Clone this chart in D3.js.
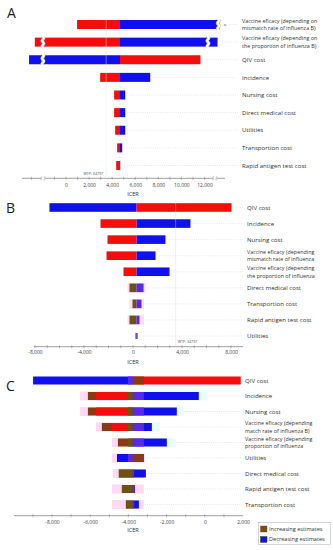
<!DOCTYPE html>
<html><head><meta charset="utf-8">
<script src="https://cdn.jsdelivr.net/npm/d3@7"></script>
<style>body{margin:0;background:#fff}svg{display:block}text{font-family:"Open Sans",sans-serif}</style>
</head><body><svg id="c" width="333" height="550"></svg>
<script>
// ---------- DATA ----------
// Panel A
const aLabels = [["Vaccine eficacy (depending on","mismatch rate of influenza B)"],["Vaccine eficacy (depending on","the proportion of influenza B)"],"QIV cost","Incidence","Nursing cost","Direct medical cost","Utilities","Transportion cost","Rapid antigen test cost"];
const aLow  = [960, -2700, -3200, 2960, 4170, 4170, 4260, 4430, 4350];
const aHigh = [13300, 13130, 11650, 7300, 5130, 5130, 5130, 4870, 4700];
const aLeftKind = ["inc","inc","dec","inc","inc","inc","inc","inc","inc"];
const aBase = 4680;
const aWTP = 3480;
const aTicks = [0,2000,4000,6000,8000,10000,12000];
const aBarBreaks = [[0,13200],[1,-2000],[1,12300],[2,-2000]];
const aAxisBreaks = [-2000, 12900];

// Panel B
const bLabels = ["QIV cost","Incidence","Nursing cost",["Vaccine eficacy (depending","mismatch rate of influenza"],["Vaccine eficacy (depending","the proportion of influenza"],"Direct medical cost","Transportion cost","Rapid antigen test cost","Utilities"];
const bLow  = [-6820, -2650, -2080, -2160, -775, -285, -40, -285, 200];
const bHigh = [8040, 4690, 2650, 1840, 2980, 860, 690, 530, 370];
const bLeftKind = ["dec","inc","inc","inc","inc","est","est","est","dec"];
const bShadeLow  = [null,null,null,null,null,-450,-300,-450,null];
const bShadeHigh = [null,null,null,null,null,1020,900,900,null];
const bBase = 290;
const bWTP = 3480;
const bTicks = [-8000,-4000,0,4000,8000];

// Panel C
const cLabels = ["QIV cost","Incidence","Nursing cost",["Vaccine eficacy (depending","match rate of influenza B)"],["Vaccine eficacy (depending","proportion of influenza"],"Utilities","Direct medical cost","Rapid antigen test cost","Transportion cost"];
const cLeftKind  = ["dec","inc","inc","inc","inc","dec","inc","inc","inc"];
const cShadeLow  = [null,-6540,-6540,-5700,-4860,-4860,-4810,-4860,-4860];
const cTailLow   = [null,-6120,-6120,-5390,-4550,null,-4500,-4340,-4130];
const cMainLow   = [-8990,-5700,-5700,-4863,null,-4600,null,null,null];
const cInnerLow  = [-4026,-4026,-4026,-4026,-4026,-4026,-4500,-4340,-4130];
const cInnerHigh = [-3190,-3190,-3190,-3190,-3190,-3190,-3700,-3660,-3700];
const cMainHigh  = [1882,-314,-1464,-2771,-1987,-3190,-3085,-3660,-3451];
const cShadeHigh = [null,105,-1150,-2353,-1569,-3150,-3200,-3200,-3200];
const cBase = -3765;
const cTicks = [-8000,-6000,-4000,-2000,0,2000];
const legendItems = ["Increasing estimates","Decreasing estimates"];

// ---------- STYLE ----------
const RED="#f50c0c", BLUE="#1010ee", BROWN="#8a3a12", OLIVE="#6e5212", PURPLE="#5a28ea", PINK="#ffdaf6", CYAN="#e8fdfd";
const svg = d3.select("#c");
const fmt = v => d3.format(",")(v).replace("\u2212","-");

function labelText(g, x, y, lab, fs){
  const t = g.append("text").attr("x",x).attr("y",y).attr("font-size",fs).attr("fill","#333");
  if (Array.isArray(lab)) {
    t.attr("font-size",5.4);
    t.append("tspan").attr("x",x).attr("dy",-1.7).text(lab[0]);
    t.append("tspan").attr("x",x).attr("dy",7.5).text(lab[1]);
  } else t.attr("dy",2.2).text(lab);
}
function wave(x,y0,y1,amp){
  let d=`M${x},${y0}`; const n=4, st=(y1-y0)/n;
  for(let i=0;i<n;i++){ const xx=x+(i%2?-amp:amp); d+=` Q${xx},${y0+st*(i+0.5)} ${x},${y0+st*(i+1)}`; }
  return d;
}
function drawBreak(g,x,yc,h){
  g.append("path").attr("d",wave(x,yc-h/2,yc+h/2,1.6)).attr("fill","none").attr("stroke","#fff").attr("stroke-width",3);
  g.append("path").attr("d",wave(x-1.6,yc-h/2,yc+h/2,1.6)).attr("fill","none").attr("stroke","#999").attr("stroke-width",0.5);
  g.append("path").attr("d",wave(x+1.6,yc-h/2,yc+h/2,1.6)).attr("fill","none").attr("stroke","#999").attr("stroke-width",0.5);
}
function drawAxis(x, y, r0, r1, ticks, minorStep, labY, icerY){
  const g = svg.append("g");
  g.append("line").attr("x1",r0).attr("x2",r1).attr("y1",y).attr("y2",y).attr("stroke","#888").attr("stroke-width",0.8);
  const d = [x.invert(r0), x.invert(r1)];
  const minor = d3.range(Math.ceil(d[0]/minorStep)*minorStep, d[1], minorStep);
  g.selectAll(".mt").data(minor).join("line").attr("x1",v=>x(v)).attr("x2",v=>x(v)).attr("y1",y-1.5).attr("y2",y+1.5).attr("stroke","#888").attr("stroke-width",0.6);
  const ax = d3.axisBottom(x).tickValues(ticks).tickFormat(fmt).tickSize(0).tickPadding(0);
  const ag = svg.append("g").attr("transform",`translate(0,${labY})`).call(ax);
  ag.select(".domain").remove();
  ag.selectAll("text").attr("font-size",5).attr("fill","#444").attr("font-family","Open Sans").attr("dy","0.35em");
  svg.append("text").attr("x",133).attr("y",icerY).attr("text-anchor","middle").attr("font-size",5.6).attr("fill","#333").attr("dy","0.35em").text("ICER");
  return g;
}
function leader(g,x1,x2,y){
  if (x2<=x1) return;
  g.append("line").attr("x1",x1).attr("x2",x2).attr("y1",y).attr("y2",y).attr("stroke","#cfcfcf").attr("stroke-width",0.5).attr("stroke-dasharray","1,1.2");
}

// ---------- PANEL A ----------
{
  const x = d3.scaleLinear().domain([0,12000]).range([66,204.5]);
  const y = d3.scalePoint().domain(d3.range(aLabels.length)).range([24.5,165.5]);
  const h = 9;
  const g = svg.append("g");
  g.append("text").attr("x",7).attr("y",18).attr("font-size",14).attr("fill","#222").text("A");
  g.append("line").attr("x1",x(aBase)).attr("x2",x(aBase)).attr("y1",16).attr("y2",176).attr("stroke","#ddd").attr("stroke-width",0.6).attr("stroke-dasharray","2,1.5");
  aLabels.forEach((lab,i)=>{
    const yc=y(i);
    leader(g, Math.max(x(aHigh[i]),x(aBase))+ (i===0?10:2), 238, yc);
    const lc = aLeftKind[i]==="inc"?RED:BLUE, rc = aLeftKind[i]==="inc"?BLUE:RED;
    g.append("rect").attr("x",x(aLow[i])).attr("y",yc-h/2).attr("width",x(aBase)-x(aLow[i])).attr("height",h).attr("fill",lc);
    g.append("rect").attr("x",x(aBase)).attr("y",yc-h/2).attr("width",Math.max(0,x(aHigh[i])-x(aBase))).attr("height",h).attr("fill",rc);
    labelText(g,242,yc,lab,6.1);
  });
  g.append("text").attr("x",x(13300)+4).attr("y",y(0)+2).attr("font-size",5).attr("fill","#888").text("=");
  g.append("line").attr("x1",x(aWTP)).attr("x2",x(aWTP)).attr("y1",16).attr("y2",176).attr("stroke","#e6e6e6").attr("stroke-opacity",0.55).attr("stroke-width",0.8);
  aBarBreaks.forEach(([r,v])=>drawBreak(g,x(v),y(r),11));
  const axg = drawAxis(x,178.3,22,225,aTicks,1000,185,194);
  aAxisBreaks.forEach(v=>drawBreak(axg,x(v),178.3,4));
  g.append("text").attr("x",x(aWTP)-3).attr("y",175).attr("text-anchor","end").attr("font-size",3.6).attr("fill","#555").text("WTP: 34797");
}

// ---------- PANEL B ----------
{
  const x = d3.scaleLinear().domain([-8000,8000]).range([35,231]);
  const y = d3.scalePoint().domain(d3.range(bLabels.length)).range([207.5,336]);
  const h = 8.6;
  const g = svg.append("g");
  g.append("text").attr("x",6).attr("y",213).attr("font-size",14).attr("fill","#222").text("B");
  bLabels.forEach((lab,i)=>{
    const yc=y(i);
    leader(g, x(bHigh[i])+2, 243, yc);
    if (bShadeLow[i]!==null) g.append("rect").attr("x",x(bShadeLow[i])).attr("y",yc-h/2-0.5).attr("width",x(bShadeHigh[i])-x(bShadeLow[i])).attr("height",h+1).attr("fill",PINK);
    const k=bLeftKind[i];
    const lc = k==="inc"?RED:(k==="est"?OLIVE:BLUE);
    const rc = k==="dec"&&i===0?RED:(k==="est"?PURPLE:BLUE);
    const hh = i===8?6:h;
    g.append("rect").attr("x",x(bLow[i])).attr("y",yc-hh/2).attr("width",x(bBase)-x(bLow[i])).attr("height",hh).attr("fill",i===8?PURPLE:lc);
    g.append("rect").attr("x",x(bBase)).attr("y",yc-hh/2).attr("width",x(bHigh[i])-x(bBase)).attr("height",hh).attr("fill",rc);
    labelText(g,247,yc,lab,6.1);
  });
  g.append("line").attr("x1",x(bWTP)).attr("x2",x(bWTP)).attr("y1",200).attr("y2",346).attr("stroke","#dcdcdc").attr("stroke-opacity",0.6).attr("stroke-width",0.7);
  drawAxis(x,346.7,34,243,bTicks,1000,352.5,362);
  g.append("text").attr("x",x(bWTP)+2).attr("y",343).attr("font-size",3.6).attr("fill","#555").text("WTP: 34797");
}

// ---------- PANEL C ----------
{
  const x = d3.scaleLinear().domain([-8000,2000]).range([52,243]);
  const y = d3.scalePoint().domain(d3.range(cLabels.length)).range([380.5,504.5]);
  const h = 8;
  const g = svg.append("g");
  g.append("text").attr("x",6).attr("y",391).attr("font-size",14).attr("fill","#222").text("C");
  const seg=(a,b,yc,col,hh)=>{ if(a===null||b===null) return; const x0=Math.min(x(a),x(b)), x1=Math.max(x(a),x(b)); if(x1-x0<=0) return; g.append("rect").attr("x",x0).attr("y",yc-hh/2).attr("width",x1-x0).attr("height",hh).attr("fill",col); };
  cLabels.forEach((lab,i)=>{
    const yc=y(i);
    const rEnd = Math.max(x(cMainHigh[i]), cShadeHigh[i]!==null?x(cShadeHigh[i]):0);
    leader(g, rEnd+1, 241, yc);
    const inc = cLeftKind[i]==="inc";
    seg(cShadeLow[i], cBase, yc, PINK, h+1);
    seg(cBase, cShadeHigh[i], yc, i>=5?PINK:CYAN, h+1);
    seg(cTailLow[i], cBase, yc, BROWN, h);
    seg(cMainLow[i], cBase, yc, inc?RED:BLUE, h);
    seg(cInnerLow[i], cBase, yc, inc?OLIVE:PURPLE, h);
    seg(cBase, cMainHigh[i], yc, inc?BLUE:RED, h);
    seg(cBase, cInnerHigh[i], yc, inc?PURPLE:BROWN, h);
    labelText(g,245,yc,lab,6.1);
  });
  drawAxis(x,515.7,14,243,cTicks,1000,522,530.5);
  const lg = svg.append("g");
  lg.append("rect").attr("x",258.5).attr("y",522.5).attr("width",72).attr("height",22).attr("fill","#fff").attr("stroke","#bbb").attr("stroke-width",0.6);
  legendItems.forEach((t,i)=>{
    lg.append("rect").attr("x",260.5).attr("y",526+i*10.5).attr("width",6.5).attr("height",6).attr("fill",i?BLUE:OLIVE).attr("stroke",i?"#333":"#b03030").attr("stroke-width",0.4);
    lg.append("text").attr("x",269).attr("y",529+i*10.5).attr("dy","0.35em").attr("font-size",5.6).attr("fill","#333").text(t);
  });
}
</script></body></html>
